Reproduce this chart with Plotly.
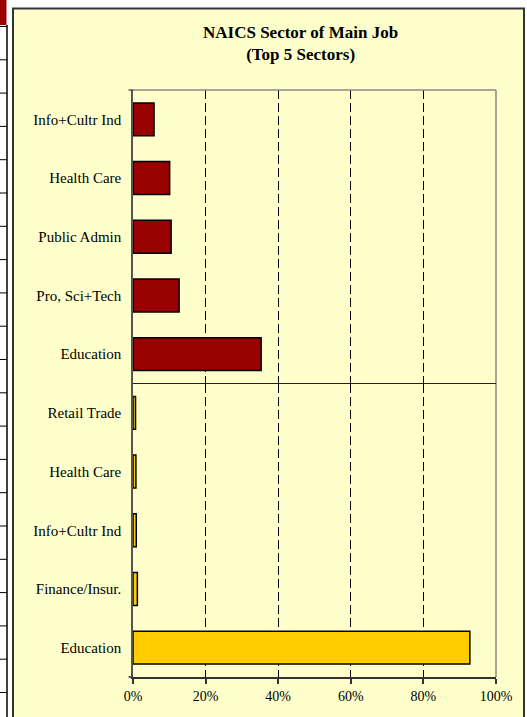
import plotly.graph_objects as go

# ---------------- data ----------------
top_categories = ["Info+Cultr Ind", "Health Care", "Public Admin", "Pro, Sci+Tech", "Education"]
top_values = [0.058, 0.101, 0.105, 0.127, 0.353]
bottom_categories = ["Retail Trade", "Health Care", "Info+Cultr Ind", "Finance/Insur.", "Education"]
bottom_values = [0.007, 0.008, 0.009, 0.012, 0.928]
x_tick_values = [0, 0.2, 0.4, 0.6, 0.8, 1.0]
x_tick_labels = ["0%", "20%", "40%", "60%", "80%", "100%"]
title_lines = ["NAICS Sector of Main Job", "(Top 5 Sectors)"]

# ---------------- layout geometry (pixels) ----------------
W, H = 527, 717
PL, PR, PT, PB = 133, 496, 90, 677  # plot area edges


def px_x(px):
    return (px - PL) / (PR - PL)


def px_y(py):
    return (PB - py) / (PB - PT)


FONT = "Liberation Serif, Times New Roman, serif"
CREAM = "#FFFFCC"

fig = go.Figure()
fig.add_trace(go.Bar(
    y=top_categories, x=top_values, orientation="h",
    marker=dict(color="#990000", line=dict(color="#000000", width=1.5)),
    width=0.56, xaxis="x2", yaxis="y2", hoverinfo="x+y",
))
fig.add_trace(go.Bar(
    y=bottom_categories, x=bottom_values, orientation="h",
    marker=dict(color="#FFCC00", line=dict(color="#000000", width=1.5)),
    width=0.56, xaxis="x", yaxis="y", hoverinfo="x+y",
))

xcommon = dict(
    range=[0, 1], tickvals=x_tick_values, ticktext=x_tick_labels,
    showgrid=True, gridcolor="#000000", gridwidth=1, griddash="9px,4px",
    zeroline=False, fixedrange=True,
)
ycommon = dict(
    type="category", autorange="reversed", showgrid=False, zeroline=False,
    showline=True, linecolor="#555555", linewidth=1.5, ticks="",
    ticklabelstandoff=7, tickfont=dict(family=FONT, size=15, color="#000000"),
)

shapes = []
# chart-area background + border
shapes.append(dict(type="rect", xref="paper", yref="paper",
                   x0=px_x(13), x1=px_x(524), y0=px_y(725), y1=px_y(8.5),
                   fillcolor=CREAM, line=dict(color="#333333", width=2), layer="below"))
# spreadsheet remnants at the far left
shapes.append(dict(type="rect", xref="paper", yref="paper",
                   x0=px_x(-2), x1=px_x(6.5), y0=px_y(25), y1=px_y(-2),
                   fillcolor="#990000", line=dict(width=0), layer="below"))
shapes.append(dict(type="line", xref="paper", yref="paper",
                   x0=px_x(7), x1=px_x(7), y0=px_y(25), y1=px_y(720),
                   line=dict(color="#000000", width=1.5), layer="below"))
for k in range(21):
    yy = 26.5 + 33.3 * k
    shapes.append(dict(type="line", xref="paper", yref="paper",
                       x0=px_x(-2), x1=px_x(7), y0=px_y(yy), y1=px_y(yy),
                       line=dict(color="#000000", width=1), layer="below"))
# plot-area border (top & right, gray)
shapes.append(dict(type="line", xref="paper", yref="paper", x0=0, x1=1, y0=1, y1=1,
                   line=dict(color="#888888", width=1.5)))
shapes.append(dict(type="line", xref="paper", yref="paper", x0=1, x1=1, y0=0, y1=1,
                   line=dict(color="#888888", width=1.5)))
# divider between the two groups
shapes.append(dict(type="line", xref="paper", yref="paper", x0=0, x1=1, y0=0.5, y1=0.5,
                   line=dict(color="#222222", width=1)))
# small end ticks on value axis
shapes.append(dict(type="line", xref="paper", yref="paper", x0=px_x(128.5), x1=0, y0=1, y1=1,
                   line=dict(color="#333333", width=1.2)))
shapes.append(dict(type="line", xref="paper", yref="paper", x0=px_x(128.5), x1=0, y0=0, y1=0,
                   line=dict(color="#333333", width=1.5)))

fig.update_layout(
    width=W, height=H,
    margin=dict(l=PL, r=W - PR, t=PT, b=H - PB, pad=0),
    paper_bgcolor="#FFFFFF", plot_bgcolor="rgba(0,0,0,0)",
    showlegend=False, bargap=0.44,
    font=dict(family=FONT, size=14, color="#000000"),
    xaxis=dict(**xcommon, anchor="y", showline=True, linecolor="#333333", linewidth=1.5,
               ticks="outside", ticklen=5, tickcolor="#333333", tickwidth=1.5,
               tickfont=dict(family=FONT, size=14, color="#000000")),
    xaxis2=dict(**xcommon, anchor="y2", matches="x", showticklabels=False, showline=False, ticks=""),
    yaxis=dict(**ycommon, domain=[0, 0.5], anchor="x"),
    yaxis2=dict(**ycommon, domain=[0.5, 1], anchor="x2"),
    shapes=shapes,
    annotations=[dict(
        xref="paper", yref="paper", x=px_x(300.5), y=px_y(44),
        xanchor="center", yanchor="middle", showarrow=False, align="center",
        text="<b>" + title_lines[0] + "</b><br><b>" + title_lines[1] + "</b>",
        font=dict(family=FONT, size=17, color="#000000"),
    )],
)

fig.write_html(
    "out.html",
    config={"displayModeBar": False},
    post_script="document.body.style.margin='0';document.body.style.overflow='hidden';",
)
